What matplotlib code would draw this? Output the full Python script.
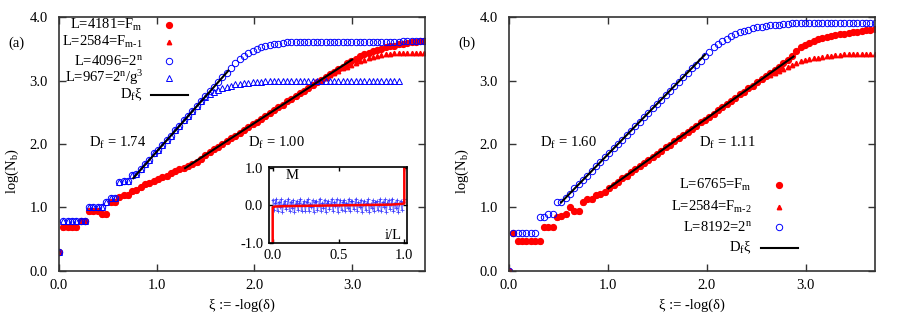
import numpy as np
import matplotlib
matplotlib.use("Agg")
import matplotlib.pyplot as plt

plt.rcParams['font.family'] = ['Liberation Serif', 'DejaVu Serif']
plt.rcParams['mathtext.fontset'] = 'custom'
plt.rcParams['mathtext.rm'] = 'Liberation Serif'
plt.rcParams['mathtext.it'] = 'Liberation Serif:italic'
plt.rcParams['font.size'] = 10.5

# ---- data: panel (a) ----
step = 0.044
red_a = [0.30, 0.70, 0.70, 0.70, 0.70, 0.78, 0.78, 0.95, 0.95, 0.95,
         0.90, 0.90, 1.08, 1.09, 1.17, 1.19, 1.20, 1.26, 1.27, 1.32,
         1.37, 1.39, 1.41, 1.45, 1.48, 1.50, 1.55, 1.57, 1.60, 1.62,
         1.65, 1.68, 1.72, 1.77, 1.82, 1.87, 1.92, 1.96, 2.00, 2.04,
         2.09, 2.13, 2.18, 2.22, 2.27, 2.31, 2.35, 2.40, 2.44, 2.49,
         2.53, 2.58, 2.62, 2.67, 2.71, 2.75, 2.80, 2.84, 2.88, 2.93,
         2.97, 3.01, 3.05, 3.10, 3.14, 3.18, 3.22, 3.27, 3.31, 3.34,
         3.38, 3.41, 3.44, 3.46, 3.48, 3.50, 3.52, 3.54, 3.55, 3.57,
         3.58, 3.59, 3.60, 3.61, 3.62, 3.62]
red_tri_a = red_a[:62] + [3.04, 3.08, 3.12, 3.15, 3.19, 3.22, 3.25, 3.28, 3.31, 3.33,
                          3.35, 3.37, 3.39, 3.40, 3.41, 3.42, 3.43, 3.43, 3.43, 3.44,
                          3.44, 3.44, 3.44, 3.44]
blue_a = [0.30, 0.78, 0.78, 0.78, 0.78, 0.78, 0.78, 1.00, 1.00, 1.00,
          1.00, 1.08, 1.15, 1.15, 1.40, 1.42, 1.42, 1.51, 1.52, 1.60,
          1.68, 1.75, 1.86, 1.90, 1.98, 2.06, 2.12, 2.22, 2.28, 2.38,
          2.44, 2.52, 2.60, 2.67, 2.75, 2.83, 2.90, 2.98, 3.06, 3.12,
          3.20, 3.27, 3.34, 3.39, 3.43, 3.46, 3.49, 3.52, 3.54, 3.56,
          3.57, 3.58, 3.59, 3.60, 3.60, 3.61, 3.61, 3.61, 3.61, 3.61,
          3.61, 3.61, 3.61, 3.61, 3.61, 3.61, 3.61, 3.61, 3.61, 3.61,
          3.61, 3.61, 3.61, 3.61, 3.61, 3.61, 3.61, 3.61, 3.61, 3.61,
          3.62, 3.62, 3.62, 3.62, 3.62, 3.62]
blue_tri_a = blue_a[:34] + [2.74, 2.78, 2.82, 2.85, 2.88, 2.90, 2.92, 2.94, 2.95, 2.96,
                            2.96, 2.97, 2.98, 2.98, 2.99, 2.99, 2.99, 2.99, 2.99, 2.99,
                            2.99, 2.99, 2.99, 2.99, 2.99, 2.99, 2.99, 2.99, 2.99, 2.99,
                            2.99, 2.99, 2.99, 2.99, 2.99, 2.99, 2.99, 2.99, 2.99, 2.99,
                            2.99, 2.99, 2.99, 2.99, 2.99, 2.99]
# fits (slope, intercept, xi range)
fits_a = [(1.74, 0.14, 0.76, 1.733), (1.00, 0.33, 1.29, 3.00)]

# inset: magnetisation profile
inset_m = [0.15, -0.13, 0.06, 0.17, -0.16, 0.09, -0.04, 0.16, -0.18, 0.05,
           0.13, -0.11, 0.02, 0.18, -0.15, 0.10, -0.07, 0.15, -0.17, 0.04,
           0.12, -0.12, 0.07, 0.17, -0.16, 0.03, 0.11, -0.14, 0.08, 0.16,
           -0.15, 0.05, -0.05, 0.14, -0.17, 0.10, 0.13, -0.12, 0.01, 0.18,
           -0.14, 0.07, -0.08, 0.15, -0.18, 0.06, 0.12, -0.10, 0.04, 0.17,
           -0.16, 0.09, -0.03, 0.16, -0.17, 0.02, 0.14, -0.13, 0.08, 0.15,
           -0.15, 0.06, -0.06, 0.17, -0.16, 0.11, 0.12, -0.11, 0.03, 0.18,
           -0.14, 0.08, -0.05, 0.15, -0.18, 0.05, 0.13, -0.12, 0.06, 0.16,
           -0.17, 0.04, -0.07, 0.14, -0.16, 0.10, 0.11, -0.13, 0.02, 0.17,
           -0.15, 0.09, -0.04, 0.16, -0.17, 0.06, 0.14, -0.10, 0.05, 0.18,
           -0.16, 0.07, -0.06, 0.15, -0.18, 0.03, 0.12, -0.12, 0.08, 0.17]
inset_red_x = [0.0, 0.0, 0.02, 0.1, 0.3, 0.5, 0.7, 0.9, 0.98, 1.0, 1.0]
inset_red_y = [-1.0, -0.05, -0.03, -0.02, -0.01, 0.0, 0.01, 0.02, 0.04, 0.05, 1.0]

# ---- data: panel (b) ----
red_b = [0.00, 0.60, 0.48, 0.48, 0.48, 0.48, 0.48, 0.48, 0.70, 0.70,
         0.70, 0.85, 0.86, 0.90, 1.00, 0.95, 0.95, 1.08, 1.13, 1.13,
         1.20, 1.21, 1.25, 1.30, 1.36, 1.40, 1.46, 1.50, 1.56, 1.60,
         1.66, 1.70, 1.75, 1.80, 1.85, 1.89, 1.95, 1.99, 2.04, 2.09,
         2.14, 2.19, 2.24, 2.28, 2.34, 2.38, 2.43, 2.48, 2.53, 2.58,
         2.63, 2.68, 2.72, 2.78, 2.82, 2.88, 2.92, 2.97, 3.03, 3.07,
         3.12, 3.17, 3.22, 3.27, 3.32, 3.38, 3.46, 3.52, 3.56, 3.59,
         3.62, 3.65, 3.67, 3.69, 3.70, 3.72, 3.73, 3.74, 3.75, 3.76,
         3.77, 3.78, 3.79, 3.80, 3.81]
red_tri_b = red_b[:60] + [3.09, 3.12, 3.15, 3.18, 3.21, 3.24, 3.27, 3.30, 3.32, 3.34,
                          3.35, 3.36, 3.37, 3.38, 3.39, 3.40, 3.40, 3.41, 3.41, 3.42,
                          3.42, 3.42, 3.42, 3.42, 3.42]
blue_b = [0.00, 0.60, 0.60, 0.60, 0.60, 0.60, 0.60, 0.85, 0.85, 0.90,
          0.90, 1.08, 1.08, 1.15, 1.22, 1.30, 1.37, 1.44, 1.50, 1.58,
          1.65, 1.71, 1.79, 1.86, 1.93, 2.00, 2.07, 2.14, 2.21, 2.28,
          2.35, 2.42, 2.49, 2.56, 2.63, 2.70, 2.77, 2.84, 2.91, 2.98,
          3.05, 3.12, 3.19, 3.25, 3.31, 3.39, 3.45, 3.52, 3.57, 3.62,
          3.66, 3.70, 3.73, 3.76, 3.78, 3.80, 3.82, 3.84, 3.85, 3.86,
          3.87, 3.88, 3.88, 3.89, 3.89, 3.90, 3.90, 3.90, 3.90, 3.90,
          3.90, 3.90, 3.90, 3.90, 3.90, 3.90, 3.90, 3.91, 3.91, 3.91,
          3.91, 3.91, 3.91, 3.91, 3.91]
fits_b = [(1.60, 0.238, 0.526, 1.98), (1.11, 0.186, 1.004, 2.875)]

ticks = [0, 1, 2, 3, 4]
tick_labels = ['0.0', '1.0', '2.0', '3.0', '4.0']
frame_col = '#333333'


def xi(vals):
    return np.arange(len(vals)) * step


def style(ax, xmax):
    ax.set_xlim(0, xmax)
    ax.set_ylim(0, 4)
    ax.set_xticks(ticks[:4])
    ax.set_xticklabels(tick_labels[:4])
    ax.set_yticks(ticks)
    ax.set_yticklabels(tick_labels)
    ax.tick_params(direction='in', length=5, width=1.0, top=True, right=True,
                   color=frame_col)
    ax.tick_params(axis='y', pad=8)
    ax.tick_params(axis='x', pad=6)
    for s in ax.spines.values():
        s.set_linewidth(1.2)
        s.set_color(frame_col)


def legend(ax, entries, xt, xm, ys):
    # gnuplot-like key: right aligned text, sample to the right
    for (lab, kw), y in zip(entries, ys):
        ax.text(xt, y, lab, ha='right', va='center', transform=ax.transAxes)
        if kw is None:
            ax.plot([xm - 0.05, xm + 0.05], [y, y], color='k', lw=1.5,
                    transform=ax.transAxes, clip_on=False)
        else:
            ax.plot([xm], [y], linestyle='none', transform=ax.transAxes,
                    clip_on=False, **kw)


red_c = dict(marker='o', ms=4.2, color='red', mec='red')
red_t = dict(marker='^', ms=3.2, color='red', mec='red')
blue_c = dict(marker='o', ms=4.6, mfc='none', mec='blue', mew=0.7)
blue_t = dict(marker='^', ms=4.6, mfc='none', mec='blue', mew=0.7)

fig = plt.figure(figsize=(9, 3.15), dpi=100)
ax1 = fig.add_axes([0.0656, 0.1397, 0.4067, 0.8063])
ax2 = fig.add_axes([0.5656, 0.1397, 0.4067, 0.8063])

# panel (a)
ax1.plot(xi(red_a), red_a, linestyle='none', **red_c)
ax1.plot(xi(red_tri_a), red_tri_a, linestyle='none', **red_t)
ax1.plot(xi(blue_a), blue_a, linestyle='none', **blue_c)
ax1.plot(xi(blue_tri_a), blue_tri_a, linestyle='none', **blue_t)
for d, c, x0, x1 in fits_a:
    xs = np.array([x0, x1])
    ax1.plot(xs, d * xs + c, color='k', lw=1.5, zorder=5)
style(ax1, 3.746)
ax1.text(0.161, 0.504, 'D$_\\mathrm{f}$ = 1.74', ha='center', va='center',
         transform=ax1.transAxes)
ax1.text(0.593, 0.504, 'D$_\\mathrm{f}$ = 1.00', ha='center', va='center',
         transform=ax1.transAxes)
legend(ax1, [('L=4181=F$_\\mathrm{m}$', red_c),
             ('L=2584=F$_\\mathrm{m\u20101}$', red_t),
             ('L=4096=2$^\\mathrm{n}$', blue_c),
             ('L=967=2$^\\mathrm{n}$/g$^\\mathrm{3}$', blue_t),
             ('D$_\\mathrm{f}$ξ', None)],
       0.2295, 0.301, [0.969, 0.900, 0.827, 0.760, 0.693])

# panel (b)
ax2.plot(xi(red_b), red_b, linestyle='none', **red_c)
ax2.plot(xi(red_tri_b), red_tri_b, linestyle='none', **red_t)
ax2.plot(xi(blue_b), blue_b, linestyle='none', **blue_c)
for d, c, x0, x1 in fits_b:
    xs = np.array([x0, x1])
    ax2.plot(xs, d * xs + c, color='k', lw=1.5, zorder=5)
style(ax2, 3.70)
ax2.text(0.161, 0.504, 'D$_\\mathrm{f}$ = 1.60', ha='center', va='center',
         transform=ax2.transAxes)
ax2.text(0.597, 0.504, 'D$_\\mathrm{f}$ = 1.11', ha='center', va='center',
         transform=ax2.transAxes)
legend(ax2, [('L=6765=F$_\\mathrm{m}$', red_c),
             ('L=2584=F$_\\mathrm{m\u20102}$', red_t),
             ('L=8192=2$^\\mathrm{n}$', blue_c),
             ('D$_\\mathrm{f}$ξ', None)],
       0.663, 0.7385, [0.339, 0.253, 0.172, 0.092])

# axis labels and panel tags
for xc in [12, 462]:
    fig.text(xc / 900, 144 / 315, 'log(N$_\\mathrm{b}$)', rotation=90,
             ha='center', va='center')
for xc in [242, 692]:
    fig.text(xc / 900, 0.032, 'ξ := -log(δ)', ha='center', va='center')
fig.text(16.7 / 900, 0.863, '(a)', ha='center', va='center')
fig.text(466.7 / 900, 0.863, '(b)', ha='center', va='center')

# inset
ins = fig.add_axes([0.2986, 0.2276, 0.154, 0.2432])
ins.plot(np.linspace(0, 1, len(inset_m)), inset_m, color='#5a5aff', lw=0.9,
         alpha=0.8, marker='+', ms=2.5, mew=0.6, mec='#2020ff')
ins.plot(inset_red_x, inset_red_y, color='red', lw=1.8)
ins.set_xlim(-0.03, 1.023)
ins.set_ylim(-1.02, 1.04)
ins.set_xticks([0, 0.5, 1])
ins.set_xticklabels(['0.0', '0.5', '1.0'])
ins.set_yticks([-1, 0, 1])
ins.set_yticklabels(['-1.0', '0.0', '1.0'])
ins.tick_params(direction='in', length=3, width=1.0, top=True, right=True, pad=4)
for s in ins.spines.values():
    s.set_linewidth(1.2)
ins.text(0.166, 0.879, 'M', ha='center', va='center', transform=ins.transAxes)
ins.text(0.90, 0.108, 'i/L', ha='center', va='center', transform=ins.transAxes)

fig.savefig('out.png', dpi=100)
